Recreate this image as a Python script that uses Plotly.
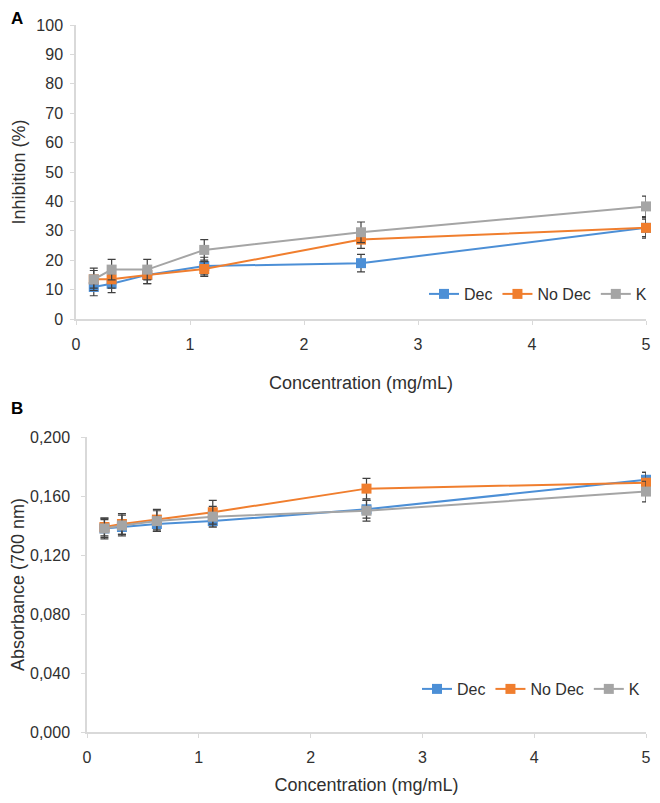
"""
Inhibition (A) and absorbance (B) against concentration, Dec / No Dec / K
"""
import plotly.graph_objects as go

# concentrations (mg/mL)
conc = [0.156, 0.3125, 0.625, 1.125, 2.5, 5]
series_names = ["Dec", "No Dec", "K"]
colors = ["#4C8FD6", "#F07E2E", "#A5A5A5"]

# panel A: inhibition (%)
inhib_dec = [10.9, 12.0, 15.0, 18.0, 19.0, 31.0]
inhib_dec_err = [3.0, 3.0, 3.0, 3.0, 3.0, 3.0]
inhib_nodec = [13.5, 13.5, 15.0, 17.0, 27.0, 31.0]
inhib_nodec_err = [3.0, 3.0, 3.0, 2.5, 3.0, 3.5]
inhib_k = [13.5, 16.8, 16.8, 23.5, 29.5, 38.3]
inhib_k_err = [3.8, 3.5, 3.5, 3.5, 3.5, 3.5]

# panel B: absorbance at 700 nm
abs_dec = [0.138, 0.139, 0.141, 0.143, 0.151, 0.171]
abs_dec_err = [0.006, 0.005, 0.005, 0.004, 0.006, 0.005]
abs_nodec = [0.139, 0.141, 0.144, 0.149, 0.165, 0.169]
abs_nodec_err = [0.006, 0.007, 0.007, 0.008, 0.007, 0.007]
abs_k = [0.138, 0.140, 0.143, 0.146, 0.150, 0.163]
abs_k_err = [0.007, 0.007, 0.007, 0.007, 0.007, 0.007]

# page has an 8px body margin, so the figure itself is a bit smaller
PAD = 8
W, H = 660 - 2 * PAD, 803 - 2 * PAD
FONT = "Liberation Sans, Arial, sans-serif"
TXT = "#303030"
AXC = "#d9d9d9"


def px(v):
    return (v - PAD) / W


def py(v):
    return 1 - (v - PAD) / H


fig = go.Figure()

panel_a = [(inhib_dec, inhib_dec_err), (inhib_nodec, inhib_nodec_err), (inhib_k, inhib_k_err)]
panel_b = [(abs_dec, abs_dec_err), (abs_nodec, abs_nodec_err), (abs_k, abs_k_err)]

for i, (vals, err) in enumerate(panel_a):
    fig.add_trace(
        go.Scatter(
            x=conc,
            y=vals,
            mode="lines+markers",
            name=series_names[i],
            line=dict(color=colors[i], width=2),
            marker=dict(symbol="square", size=10, color=colors[i]),
            error_y=dict(type="data", array=err, color="#404040", thickness=1.2, width=4),
            cliponaxis=False,
            xaxis="x",
            yaxis="y",
            legend="legend",
        )
    )

for i, (vals, err) in enumerate(panel_b):
    fig.add_trace(
        go.Scatter(
            x=conc,
            y=vals,
            mode="lines+markers",
            name=series_names[i],
            line=dict(color=colors[i], width=2),
            marker=dict(symbol="square", size=10, color=colors[i]),
            error_y=dict(type="data", array=err, color="#404040", thickness=1.2, width=4),
            cliponaxis=False,
            xaxis="x2",
            yaxis="y2",
            legend="legend2",
        )
    )

common_axis = dict(
    showline=True,
    linecolor=AXC,
    linewidth=1.5,
    showgrid=False,
    zeroline=False,
    ticks="outside",
    ticklen=4,
    tickcolor=AXC,
    automargin=False,
    tickfont=dict(size=16, color=TXT, family=FONT),
)

fig.update_layout(
    width=W,
    height=H,
    margin=dict(l=0, r=0, t=0, b=0, autoexpand=False),
    paper_bgcolor="white",
    plot_bgcolor="white",
    separators=",.",
    font=dict(family=FONT, color=TXT),
    xaxis=dict(
        common_axis,
        domain=[px(76), px(646)],
        range=[0, 5],
        dtick=1,
        anchor="y",
        ticklabelstandoff=6,
        title=dict(text="Concentration (mg/mL)", font=dict(size=18), standoff=24),
    ),
    yaxis=dict(
        common_axis,
        domain=[py(319), py(25)],
        range=[0, 100],
        dtick=10,
        anchor="x",
        ticklabelstandoff=4,
        title=dict(text="Inhibition (%)", font=dict(size=18), standoff=6),
    ),
    xaxis2=dict(
        common_axis,
        domain=[px(87), px(646)],
        range=[0, 5],
        dtick=1,
        anchor="y2",
        ticklabelstandoff=6,
        title=dict(text="Concentration (mg/mL)", font=dict(size=18), standoff=14),
    ),
    yaxis2=dict(
        common_axis,
        domain=[py(732), py(437)],
        range=[0, 0.2],
        dtick=0.04,
        tickformat=".3f",
        anchor="x2",
        ticklabelstandoff=8,
        title=dict(text="Absorbance (700 nm)", font=dict(size=18), standoff=10),
    ),
    legend=dict(
        orientation="h",
        x=px(652),
        xanchor="right",
        y=py(294),
        yanchor="middle",
        font=dict(size=16, color=TXT),
        bgcolor="rgba(0,0,0,0)",
        itemwidth=30,
    ),
    legend2=dict(
        orientation="h",
        x=px(645),
        xanchor="right",
        y=py(689),
        yanchor="middle",
        font=dict(size=16, color=TXT),
        bgcolor="rgba(0,0,0,0)",
        itemwidth=30,
    ),
    annotations=[
        dict(text="<b>A</b>", x=px(9), y=py(19), xref="paper", yref="paper",
             xanchor="left", yanchor="middle", showarrow=False, font=dict(size=17, color="black")),
        dict(text="<b>B</b>", x=px(9), y=py(409), xref="paper", yref="paper",
             xanchor="left", yanchor="middle", showarrow=False, font=dict(size=17, color="black")),
    ],
)

fig.write_html("out.html")
